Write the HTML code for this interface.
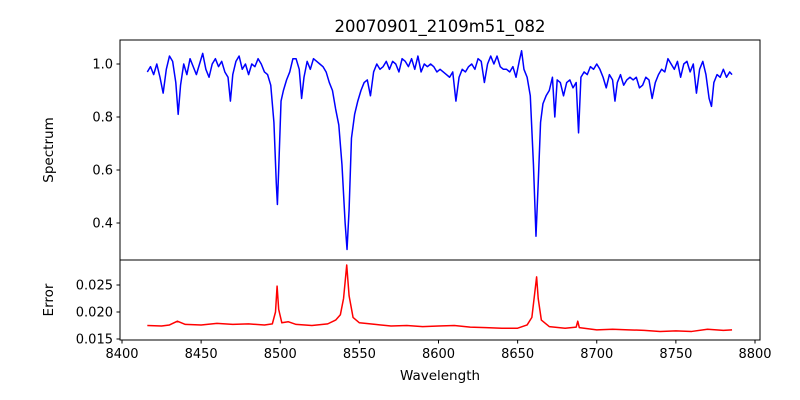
<!DOCTYPE html>
<html><head><meta charset="utf-8"><style>
html,body{margin:0;padding:0;background:#fff;}
svg{display:block;font-family:"DejaVu Sans","Liberation Sans",sans-serif;}
</style></head><body>
<svg id="chart" width="800" height="400" viewBox="0 0 800 400" xmlns="http://www.w3.org/2000/svg">
<rect x="0" y="0" width="800" height="400" fill="#fff"/>
<text x="440" y="32" font-size="16.5" text-anchor="middle">20070901_2109m51_082</text>
<g id="topg"></g>
<g id="botg"></g>
<text x="440" y="380" font-size="13.5" text-anchor="middle">Wavelength</text>
<text transform="translate(53,150) rotate(-90)" font-size="13.5" text-anchor="middle">Spectrum</text>
<text transform="translate(53,300) rotate(-90)" font-size="13.5" text-anchor="middle">Error</text>
</svg>
<script>
const waveSpec=[8416,8418,8420,8422,8424,8426,8428,8430,8432,8434,8435.5,8437,8439,8441,8443,8445,8447,8449,8451,8453,8455,8457,8459,8461,8463,8465,8467,8468.5,8470,8472,8474,8476,8478,8480,8482,8484,8486,8488,8490,8492,8494,8496,8497.5,8498.2,8499,8500.5,8502,8504,8506,8508,8510,8512,8513.5,8515,8517,8519,8521,8523,8525,8527,8529,8531,8533,8535,8537,8539,8541,8542.2,8543.5,8545,8547,8549,8551,8553,8555,8557,8559,8561,8563,8565,8567,8569,8571,8573,8575,8577,8579,8581,8583,8585,8587,8589,8591,8593,8595,8597,8599,8601,8603,8605,8607,8609,8611,8613,8615,8617,8619,8621,8623,8625,8627,8629,8631,8633,8635,8637,8639,8641,8643,8645,8647,8649,8651,8652.5,8654,8656,8658,8660,8661.6,8663,8664.5,8666,8668,8670,8672,8673.5,8675,8677,8679,8681,8683,8685,8687,8688.5,8690,8692,8694,8696,8698,8700,8702,8704,8706,8708,8710,8711.5,8713,8715,8717,8719,8721,8723,8725,8727,8729,8731,8733,8735,8737,8739,8741,8743,8745,8747,8749,8751,8753,8755,8757,8759,8761,8763,8765,8767,8769,8771,8772.5,8774,8776,8778,8780,8782,8784,8785.5];
const fluxSpec=[0.97,0.99,0.96,1.00,0.95,0.89,0.98,1.03,1.01,0.93,0.81,0.92,1.00,0.96,1.02,0.99,0.96,1.00,1.04,0.98,0.95,1.00,1.02,0.99,1.01,0.97,0.95,0.86,0.96,1.01,1.03,0.98,1.00,0.96,1.00,0.99,1.02,1.00,0.97,0.96,0.92,0.78,0.55,0.47,0.60,0.86,0.90,0.94,0.97,1.02,1.02,0.98,0.87,0.95,1.01,0.98,1.02,1.01,1.00,0.99,0.97,0.93,0.90,0.83,0.77,0.62,0.40,0.30,0.45,0.72,0.81,0.86,0.90,0.93,0.94,0.88,0.97,1.00,0.98,0.99,1.01,0.98,1.01,1.00,0.97,1.02,1.01,0.99,1.02,0.98,1.03,0.97,1.00,0.99,1.00,0.99,0.97,0.98,0.97,0.96,0.95,0.97,0.86,0.95,0.98,0.97,0.99,1.00,0.98,1.02,1.01,0.93,1.00,1.03,1.00,1.03,0.99,0.98,0.98,0.97,0.99,0.95,1.01,1.05,0.98,0.95,0.88,0.62,0.35,0.55,0.78,0.85,0.88,0.90,0.95,0.80,0.94,0.93,0.88,0.93,0.94,0.91,0.93,0.74,0.95,0.97,0.96,0.99,0.98,1.00,0.98,0.95,0.91,0.96,0.94,0.86,0.93,0.96,0.92,0.94,0.95,0.94,0.95,0.91,0.92,0.95,0.94,0.87,0.93,0.96,0.98,0.97,1.02,1.00,0.98,1.01,0.95,1.00,1.01,0.97,1.00,0.89,0.98,1.01,0.96,0.87,0.84,0.93,0.96,0.95,0.98,0.95,0.97,0.96];
const waveErr=[8416,8425,8430,8435,8440,8450,8460,8470,8480,8490,8495,8497,8498,8499,8501,8505,8510,8520,8530,8535,8538,8540,8542,8543.5,8546,8550,8560,8570,8580,8590,8600,8610,8620,8630,8640,8650,8656,8659,8661,8662,8663,8665,8670,8680,8687,8688,8689,8700,8710,8720,8730,8740,8750,8760,8770,8780,8785.5];
const errVals=[0.0175,0.0174,0.0176,0.0183,0.0177,0.0176,0.0179,0.0177,0.0178,0.0176,0.0178,0.0200,0.0248,0.0205,0.0180,0.0182,0.0177,0.0175,0.0178,0.0185,0.0195,0.0225,0.0287,0.0230,0.0190,0.0180,0.0177,0.0174,0.0175,0.0173,0.0174,0.0175,0.0172,0.0171,0.0170,0.0170,0.0176,0.0190,0.0240,0.0265,0.0225,0.0185,0.0173,0.0170,0.0172,0.0183,0.0171,0.0167,0.0168,0.0167,0.0166,0.0164,0.0165,0.0164,0.0168,0.0166,0.0167];
const xTicks=[8400,8450,8500,8550,8600,8650,8700,8750,8800];
const specTicks=[0.4,0.6,0.8,1.0];
const errTicks=[0.015,0.020,0.025];

const NS="http://www.w3.org/2000/svg";
const L=120,R=760,T1=40,B1=260,T2=260,B2=340;
function X(w){return 122+(w-8400)*1.5825;}
function Y1(v){return 64+(1.0-v)*265;}
function Y2(v){return 339-(v-0.015)*5400;}
function mk(tag,attrs,parent){const e=document.createElementNS(NS,tag);for(const k in attrs)e.setAttribute(k,attrs[k]);parent.appendChild(e);return e;}
const gTop=document.getElementById('topg'),gBot=document.getElementById('botg');

let d=waveSpec.map((w,i)=>(i?'L':'M')+X(w).toFixed(2)+','+Y1(fluxSpec[i]).toFixed(2)).join('');
const sp=mk('path',{d:d,fill:'none',stroke:'#0000ff','stroke-width':1.5,'stroke-linejoin':'round'},gTop);


d=waveErr.map((w,i)=>(i?'L':'M')+X(w).toFixed(2)+','+Y2(errVals[i]).toFixed(2)).join('');
const ep=mk('path',{d:d,fill:'none',stroke:'#ff0000','stroke-width':1.5,'stroke-linejoin':'round'},gBot);



const f1=mk('rect',{x:L,y:T1,width:R-L,height:B1-T1,fill:'none',stroke:'#000','stroke-width':1},gTop);


const f2=mk('rect',{x:L,y:T2,width:R-L,height:B2-T2,fill:'none',stroke:'#000','stroke-width':1},gBot);



specTicks.forEach(v=>{const y=Y1(v);
 mk('line',{x1:L-3.5,x2:L,y1:y,y2:y,stroke:'#000'},gTop);
 const t=mk('text',{x:L-7,y:y+4.5,'font-size':13,'text-anchor':'end'},gTop);t.textContent=v.toFixed(1);
 
 });
errTicks.forEach(v=>{const y=Y2(v);
 mk('line',{x1:L-3.5,x2:L,y1:y,y2:y,stroke:'#000'},gBot);
 const t=mk('text',{x:L-7,y:y+4.5,'font-size':13,'text-anchor':'end'},gBot);t.textContent=v.toFixed(3);
 
 });
xTicks.forEach(w=>{const x=X(w);
 mk('line',{x1:x,x2:x,y1:B2,y2:B2+3.5,stroke:'#000'},gBot);
 const t=mk('text',{x:x,y:B2+18,'font-size':13,'text-anchor':'middle'},gBot);t.textContent=w;
 
 });
</script>
</body></html>
